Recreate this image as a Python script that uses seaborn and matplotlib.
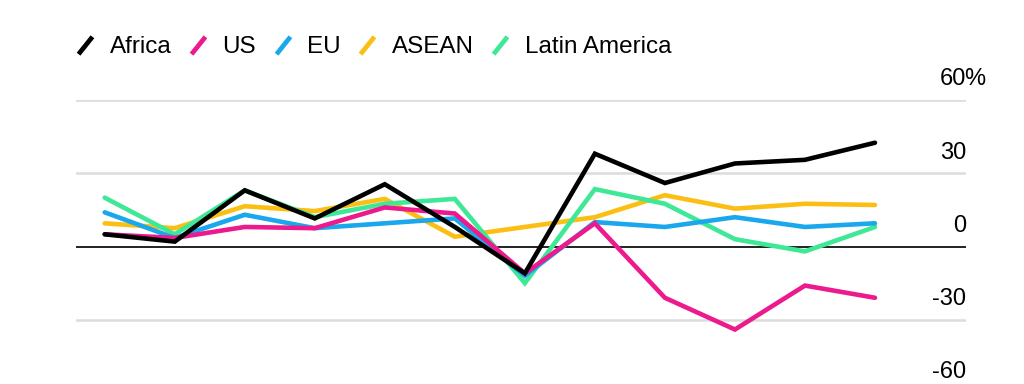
import matplotlib.pyplot as plt
import seaborn as sns
import pandas as pd
from matplotlib.path import Path
from matplotlib.lines import Line2D

# valores (% de crescimento anual)
anos = list(range(2003, 2015))
africa = [5, 2, 23, 11.5, 25.5, 8, -11, 38, 26, 34, 35.5, 42.5]
eua = [5, 3.5, 8, 7.5, 16, 13.5, -11, 9.5, -21, -34, -16, -21]
ue = [14, 3.5, 13, 7.5, 9.5, 11.5, -12, 10, 8, 12, 8, 9.5]
asean = [9.5, 7.5, 16.5, 14.5, 19.5, 4, 8, 12, 21, 15.5, 17.5, 17]
america_latina = [20, 5, 23, 12, 17.5, 19.5, -15, 23.5, 17.5, 3, -2, 8]

series = {
    "Africa": africa,
    "US": eua,
    "EU": ue,
    "ASEAN": asean,
    "Latin America": america_latina,
}
cores = {
    "Africa": "#000000",
    "US": "#ec1a8c",
    "EU": "#1aa7ec",
    "ASEAN": "#fbbf14",
    "Latin America": "#3fe896",
}
ordem_desenho = ["ASEAN", "Latin America", "EU", "US", "Africa"]
marcas_y = [-60, -30, 0, 30, 60]

df = pd.DataFrame({"ano": anos, **series})

sns.set_theme(style="white")
plt.rcParams["font.family"] = ["Liberation Sans", "DejaVu Sans"]

fig = plt.figure(figsize=(10.24, 3.84), dpi=100)
ax = fig.add_axes([76 / 1024, -9 / 384, 890 / 1024, 293 / 384])

for nome in ordem_desenho:
    sns.lineplot(data=df, x="ano", y=nome, ax=ax, color=cores[nome],
                 linewidth=3.3, solid_capstyle="round", solid_joinstyle="miter")

ax.set_xlim(anos[0] - 0.41, anos[-1] + 1.3)
ax.set_ylim(marcas_y[0], marcas_y[-1])
ax.set_xticks([])
ax.set_yticks([])
ax.set_xlabel("")
ax.set_ylabel("")
for lado in ax.spines.values():
    lado.set_visible(False)

for v in marcas_y:
    if v == 0:
        ax.axhline(v, color="#222222", linewidth=1.4, zorder=0.5)
    else:
        ax.axhline(v, color="#dcdcdc", linewidth=1.8, zorder=0)

trans = ax.get_yaxis_transform()
for v in marcas_y:
    ax.annotate(str(v), xy=(1.0, v), xycoords=trans, xytext=(0, 10.5),
                textcoords="offset points", ha="right", va="baseline",
                fontsize=17, color="black", annotation_clip=False)
ax.annotate("%", xy=(1.0, marcas_y[-1]), xycoords=trans, xytext=(-1.5, 10.5),
            textcoords="offset points", ha="left", va="baseline",
            fontsize=17, color="black", annotation_clip=False)

# legenda com traço inclinado
traco = Path([(-0.8, -1), (0.8, 1)], [Path.MOVETO, Path.LINETO])
alcas = [Line2D([], [], linestyle="none", marker=traco, markersize=12.5,
                markeredgewidth=3.4, markeredgecolor=cores[n], label=n)
         for n in series]
leg = fig.legend(handles=alcas, loc="center left", bbox_to_anchor=(73 / 1024, 1 - 47 / 384),
                 ncol=5, frameon=False, fontsize=17.5, handlelength=1.0,
                 handletextpad=0.5, columnspacing=0.6, borderaxespad=0, borderpad=0)
for t in leg.get_texts():
    t.set_color("black")

fig.savefig("out.png", dpi=100)
